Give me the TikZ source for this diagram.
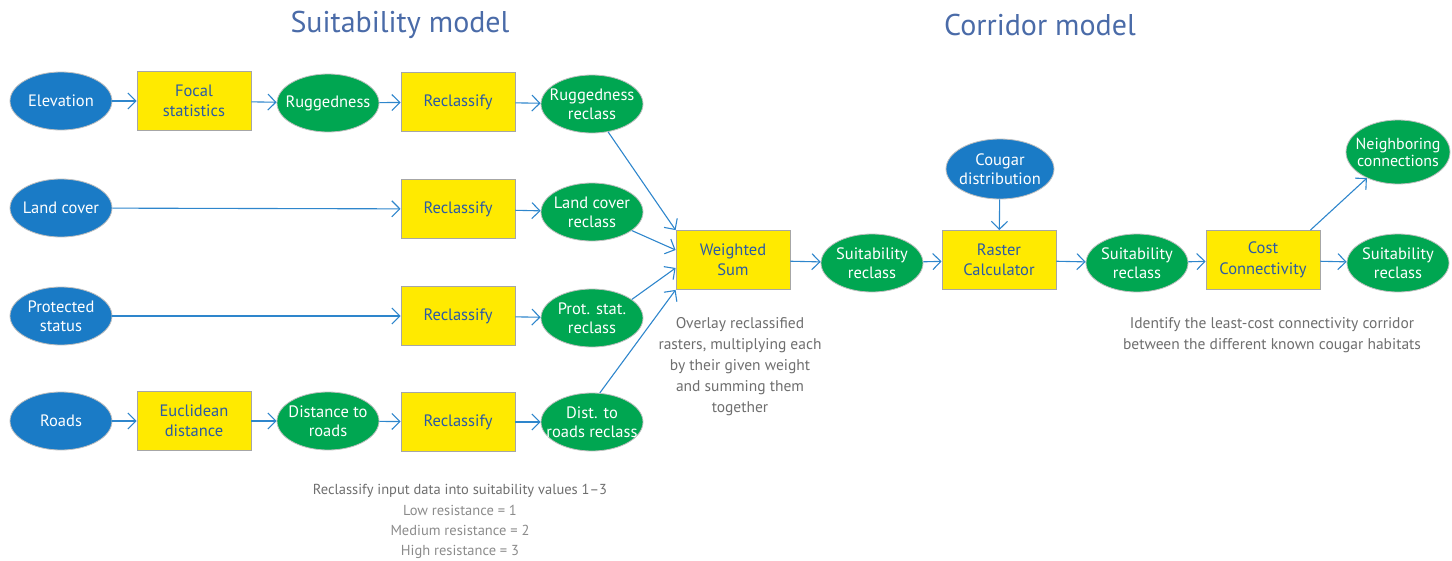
\documentclass[tikz,border=0pt]{standalone}
\usepackage{fontspec}
\setmainfont{PT Sans}
\usetikzlibrary{shapes.geometric,arrows.meta}
\definecolor{dblue}{HTML}{1A7BC6}
\definecolor{dgreen}{HTML}{00A651}
\definecolor{dyellow}{HTML}{FFEA00}
\definecolor{btext}{HTML}{2B5AA6}
\definecolor{ttl}{HTML}{4A6BA8}
\definecolor{arr}{HTML}{2E86CC}
\definecolor{note}{HTML}{6E6E6E}
\begin{document}
\begin{tikzpicture}[x=1pt,y=-1pt,
  ell/.style={ellipse,draw=black!25,line width=0.8pt,minimum width=102pt,minimum height=58pt,inner xsep=-20pt,inner ysep=-6pt,text=white,align=center,font=\fontsize{16.5}{19}\selectfont},
  inp/.style={ell,fill=dblue},
  outp/.style={ell,fill=dgreen},
  tool/.style={rectangle,draw=black!35,line width=0.8pt,fill=dyellow,minimum width=114pt,minimum height=59pt,inner sep=0pt,text=btext,align=center,font=\fontsize{16.5}{20.5}\selectfont},
  link/.style={draw=arr,line width=1.1pt,-{Straight Barb[length=8pt,width=16pt,line width=1.1pt]}},
  notetext/.style={text=note,align=center,font=\fontsize{15.5}{21}\selectfont},
  title/.style={text=ttl,font=\fontsize{30}{32}\selectfont}]
\useasboundingbox (0,0) rectangle (1452,560);
\node[title] (t1) at (400,25) {Suitability model};
\node[title] (t2) at (1040,25) {Corridor model};
% row 1
\node[inp] (elev) at (61,101) {Elevation};
\node[tool] (focal) at (194,101) {Focal\\statistics};
\node[outp] (rug) at (328,103) {Ruggedness};
\node[tool] (rc1) at (458,102) {Reclassify};
\node[outp] (rugr) at (592,104) {Ruggedness\\reclass};
% row 2
\node[inp] (land) at (61,208) {Land cover};
\node[tool] (rc2) at (458,209) {Reclassify};
\node[outp] (landr) at (592,212) {Land cover\\reclass};
% row 3
\node[inp] (prot) at (61,316) {Protected\\status};
\node[tool] (rc3) at (458,316) {Reclassify};
\node[outp] (protr) at (592,318) {Prot. stat.\\reclass};
% row 4
\node[inp] (roads) at (61,421) {Roads};
\node[tool] (eucl) at (194,421) {Euclidean\\distance};
\node[outp] (dist) at (328,421) {Distance to\\roads};
\node[tool] (rc4) at (458,422) {Reclassify};
\node[outp] (distr) at (592,422) {Dist. to\\roads reclass};
% corridor
\node[tool] (ws) at (733,260) {Weighted\\Sum};
\node[outp] (s1) at (872,263) {Suitability\\reclass};
\node[tool] (rcalc) at (999,260) {Raster\\Calculator};
\node[inp,minimum width=108pt,minimum height=60pt] (coug) at (1000,169) {Cougar\\distribution};
\node[outp] (s2) at (1137,263) {Suitability\\reclass};
\node[tool] (cost) at (1263,260) {Cost\\Connectivity};
\node[outp] (s3) at (1398,263) {Suitability\\reclass};
\node[outp,minimum width=104pt,minimum height=64pt,font=\fontsize{16}{17}\selectfont] (nb) at (1398,152) {Neighboring\\connections};
% links
\draw[link] (elev) -- (focal);
\draw[link] (focal) -- (rug);
\draw[link] (rug) -- (rc1);
\draw[link] (rc1) -- (rugr);
\draw[link] (land) -- (rc2);
\draw[link] (rc2) -- (landr);
\draw[link] (prot) -- (rc3);
\draw[link] (rc3) -- (protr);
\draw[link] (roads) -- (eucl);
\draw[link] (eucl) -- (dist);
\draw[link] (dist) -- (rc4);
\draw[link] (rc4) -- (distr);
\draw[link] (rugr.-60) -- (ws.north west);
\draw[link] (landr.-25) -- ([yshift=10pt]ws.west);
\draw[link] (protr.25) -- ([yshift=-8pt]ws.west);
\draw[link] (distr.75) -- (ws.south west);
\draw[link] (ws) -- (s1);
\draw[link] (s1) -- (rcalc);
\draw[link] (coug) -- (rcalc);
\draw[link] (rcalc) -- (s2);
\draw[link] (s2) -- (cost);
\draw[link] (cost) -- (s3);
\draw[link] ([xshift=-10pt]cost.north east) -- (nb.-140);
% notes
\node[notetext] (n1) at (740,367) {Overlay reclassified\\rasters, multiplying each\\by their given weight\\and summing them\\together};
\node[notetext] (n2) at (1272,335) {Identify the least-cost connectivity corridor\\between the different known cougar habitats};
\node[text=note,align=center,font=\fontsize{14.5}{20.3}\selectfont,anchor=north] (n3) at (460,481) {Reclassify input data into suitability values 1–3\\{\color{note!80}Low resistance = 1}\\{\color{note!80}Medium resistance = 2}\\{\color{note!80}High resistance = 3}};
\end{tikzpicture}
\end{document}
